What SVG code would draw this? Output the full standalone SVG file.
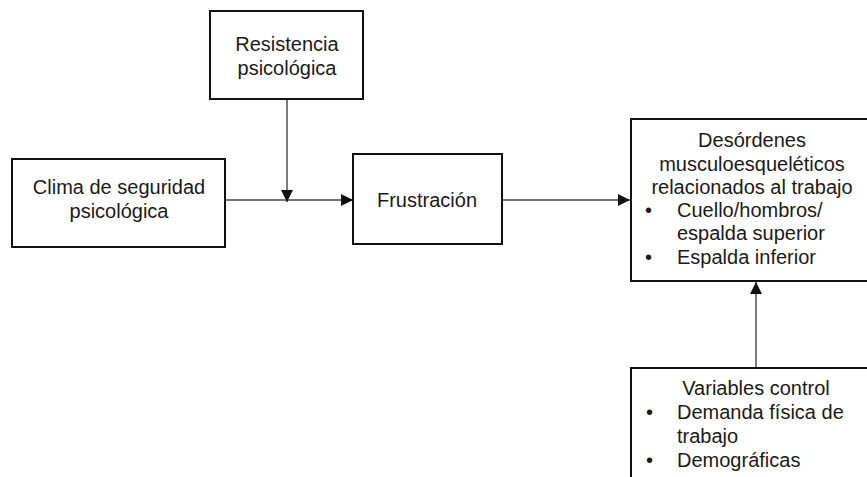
<svg xmlns="http://www.w3.org/2000/svg" width="867" height="477" viewBox="0 0 867 477">
  <style>
    .box { fill: #ffffff; stroke: #111111; stroke-width: 2; }
    .lbl { font-family: "Liberation Sans", Arial, sans-serif; font-size: 20px; fill: #1a1a1a; }
    .mid { text-anchor: middle; }
    .edge { fill: none; stroke: #444444; stroke-width: 1.4; }
  </style>
  <defs>
    <marker id="arrow" markerWidth="12" markerHeight="12" viewBox="0 0 12 12" refX="12" refY="6" orient="auto" markerUnits="userSpaceOnUse">
      <path d="M0,0 L12,6 L0,12 Z" fill="#111111"/>
    </marker>
  </defs>
  <rect width="867" height="477" fill="#ffffff"/>

  <g id="connectors">
    <path class="edge" d="M225,200 H353" marker-end="url(#arrow)"/>
    <path class="edge" d="M287,99 V202" marker-end="url(#arrow)"/>
    <path class="edge" d="M502,200 H630" marker-end="url(#arrow)"/>
    <path class="edge" d="M756,368 V282" marker-end="url(#arrow)"/>
  </g>

  <g id="resistencia">
    <rect class="box" x="210" y="11" width="153" height="88"/>
    <text class="lbl mid" x="287" y="51">Resistencia</text>
    <text class="lbl mid" x="287" y="75">psicológica</text>
  </g>

  <g id="clima">
    <rect class="box" x="12" y="159" width="213" height="88"/>
    <text class="lbl mid" x="119" y="194">Clima de seguridad</text>
    <text class="lbl mid" x="119" y="218">psicológica</text>
  </g>

  <g id="frustracion">
    <rect class="box" x="353" y="154" width="149" height="90"/>
    <text class="lbl mid" x="427" y="207">Frustración</text>
  </g>

  <g id="desordenes">
    <rect class="box" x="631" y="119" width="245" height="162"/>
    <text class="lbl mid" x="752" y="147">Desórdenes</text>
    <text class="lbl mid" x="752" y="171">musculoesqueléticos</text>
    <text class="lbl mid" x="752" y="194">relacionados al trabajo</text>
    <text class="lbl" x="645" y="217">•</text>
    <text class="lbl" x="677" y="217">Cuello/hombros/</text>
    <text class="lbl" x="677" y="240">espalda superior</text>
    <text class="lbl" x="645" y="264">•</text>
    <text class="lbl" x="677" y="264">Espalda inferior</text>
  </g>

  <g id="variables">
    <rect class="box" x="631" y="368" width="245" height="120"/>
    <text class="lbl mid" x="756" y="395">Variables control</text>
    <text class="lbl" x="646" y="419">•</text>
    <text class="lbl" x="677" y="419">Demanda física de</text>
    <text class="lbl" x="677" y="443">trabajo</text>
    <text class="lbl" x="646" y="467">•</text>
    <text class="lbl" x="677" y="467">Demográficas</text>
  </g>
</svg>
